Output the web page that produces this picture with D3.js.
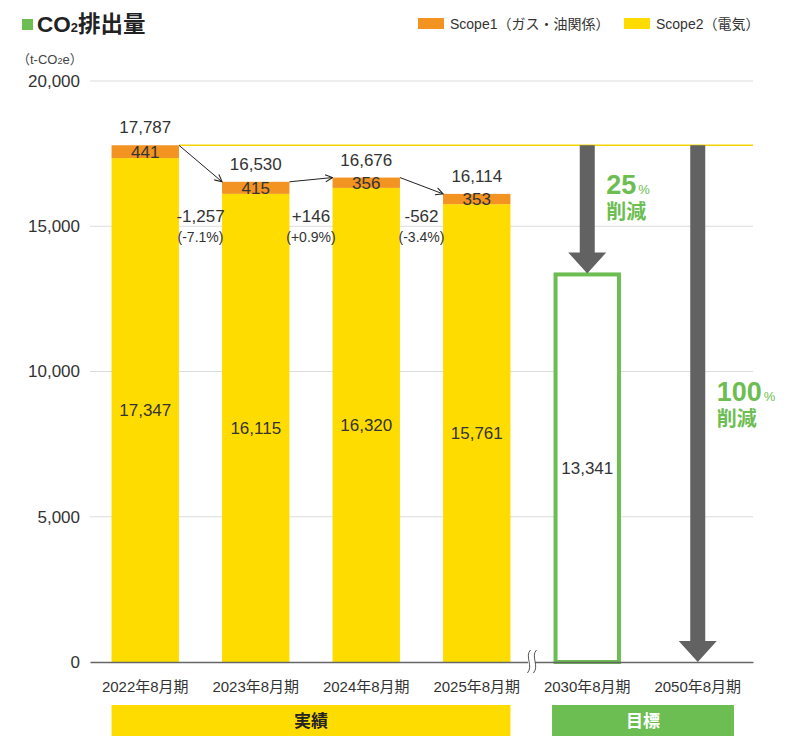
<!DOCTYPE html>
<html>
<head>
<meta charset="utf-8">
<script src="https://cdn.jsdelivr.net/npm/d3@7"></script>
<style>
  body { margin: 0; background: #fff; }
  svg { display: block; font-family: "Liberation Sans", "Noto Sans CJK JP", sans-serif; }
</style>
</head>
<body>
<svg id="chart" width="795" height="742"></svg>
<script>
// data
var categories = ["2022年8月期", "2023年8月期", "2024年8月期", "2025年8月期", "2030年8月期", "2050年8月期"];
var scope1 = [441, 415, 356, 353];
var scope2 = [17347, 16115, 16320, 15761];
var totals = [17787, 16530, 16676, 16114];
var changes = ["-1,257", "+146", "-562"];
var changePct = ["(-7.1%)", "(+0.9%)", "(-3.4%)"];
var target2030 = 13341;
var yTicks = [0, 5000, 10000, 15000, 20000];

var yellow = "#ffdc00";
var orange = "#f39322";
var green = "#6cbd52";
var arrowGray = "#626262";
var textColor = "#333";

var svg = d3.select("#chart");

var x = d3.scaleBand()
    .domain(categories)
    .range([90, 753])
    .paddingInner(0.39)
    .paddingOuter(0.195);

var y = d3.scaleLinear()
    .domain([0, 20000])
    .range([662, 81]);

var bw = x.bandwidth();
var fmt = d3.format(",");

// title
svg.append("rect").attr("x", 22).attr("y", 19).attr("width", 11).attr("height", 11).attr("fill", green);
var title = svg.append("text").attr("x", 37).attr("y", 32)
    .attr("font-size", 22.5).attr("font-weight", "bold").attr("fill", "#222");
title.append("tspan").text("CO");
title.append("tspan").attr("font-size", 13).text("2");
title.append("tspan").text("排出量");

// unit
var unit = svg.append("text").attr("x", 17).attr("y", 64)
    .attr("font-size", 13).attr("fill", "#444");
unit.append("tspan").text("（t-CO");
unit.append("tspan").attr("font-size", 9).text("2");
unit.append("tspan").text("e）");

// legend
var legend = [
    { label: "Scope1（ガス・油関係）", color: orange, x: 418 },
    { label: "Scope2（電気）", color: yellow, x: 624 }
];
legend.forEach(function (d) {
    svg.append("rect").attr("x", d.x).attr("y", 18).attr("width", 26).attr("height", 11).attr("fill", d.color);
    svg.append("text").attr("x", d.x + 32).attr("y", 28.5)
        .attr("font-size", 14).attr("fill", textColor).text(d.label);
});

// grid
svg.append("g").selectAll("line")
    .data(yTicks.filter(function (d) { return d > 0; }))
    .enter().append("line")
    .attr("x1", 90).attr("x2", 753)
    .attr("y1", function (d) { return y(d); })
    .attr("y2", function (d) { return y(d); })
    .attr("stroke", "#dcdcdc").attr("stroke-width", 1);

// y axis labels
var yAxis = svg.append("g")
    .attr("transform", "translate(80,0)")
    .call(d3.axisLeft(y).tickValues(yTicks).tickFormat(fmt).tickSize(0).tickPadding(0));
yAxis.select(".domain").remove();
yAxis.selectAll("text").attr("font-size", 17).attr("fill", textColor)
    .attr("font-family", "Liberation Sans, sans-serif");

// reference line at 2022 level
svg.append("line")
    .attr("x1", x(categories[0]) + bw).attr("x2", 753)
    .attr("y1", y(totals[0])).attr("y2", y(totals[0]))
    .attr("stroke", "#f2d500").attr("stroke-width", 1.5);

// stacked bars
var actual = categories.slice(0, 4);
svg.append("g").selectAll("rect")
    .data(actual)
    .enter().append("rect")
    .attr("x", function (d) { return x(d); })
    .attr("width", bw)
    .attr("y", function (d, i) { return y(scope2[i]); })
    .attr("height", function (d, i) { return y(0) - y(scope2[i]); })
    .attr("fill", yellow);

svg.append("g").selectAll("rect")
    .data(actual)
    .enter().append("rect")
    .attr("x", function (d) { return x(d); })
    .attr("width", bw)
    .attr("y", function (d, i) { return y(scope2[i] + scope1[i]); })
    .attr("height", function (d, i) { return y(scope2[i]) - y(scope2[i] + scope1[i]); })
    .attr("fill", orange);

// labels on bars
actual.forEach(function (d, i) {
    var cx = x(d) + bw / 2;
    svg.append("text").attr("x", cx).attr("y", y(totals[i]) - 12)
        .attr("text-anchor", "middle").attr("font-size", 17).attr("fill", textColor)
        .text(fmt(totals[i]));
    svg.append("text").attr("x", cx).attr("y", (y(scope2[i]) + y(scope2[i] + scope1[i])) / 2)
        .attr("dy", "0.36em")
        .attr("text-anchor", "middle").attr("font-size", 17).attr("fill", textColor)
        .text(scope1[i]);
    svg.append("text").attr("x", cx).attr("y", y(scope2[i] / 2))
        .attr("dy", "0.36em")
        .attr("text-anchor", "middle").attr("font-size", 17).attr("fill", textColor)
        .text(fmt(scope2[i]));
});

// change arrows between bars
var defs = svg.append("defs");
defs.append("marker")
    .attr("id", "head")
    .attr("viewBox", "0 0 10 10")
    .attr("refX", 9).attr("refY", 5)
    .attr("markerWidth", 9).attr("markerHeight", 9)
    .attr("markerUnits", "userSpaceOnUse")
    .attr("orient", "auto")
    .append("path")
    .attr("d", "M1,1 L9,5 L1,9")
    .attr("fill", "none").attr("stroke", "#222").attr("stroke-width", 1.2);

changes.forEach(function (c, i) {
    var x1 = x(actual[i]) + bw;
    var x2 = x(actual[i + 1]);
    svg.append("line")
        .attr("x1", x1).attr("y1", y(totals[i]))
        .attr("x2", x2).attr("y2", y(totals[i + 1]))
        .attr("stroke", "#222").attr("stroke-width", 1)
        .attr("marker-end", "url(#head)");
    var mx = (x1 + x2) / 2;
    svg.append("text").attr("x", mx).attr("y", 222)
        .attr("text-anchor", "middle").attr("font-size", 17).attr("fill", textColor).text(c);
    svg.append("text").attr("x", mx).attr("y", 242)
        .attr("text-anchor", "middle").attr("font-size", 14).attr("fill", textColor).text(changePct[i]);
});

// 2030 target box
var tx = x(categories[4]);
svg.append("rect")
    .attr("x", tx + 2).attr("width", bw - 4)
    .attr("y", y(target2030)).attr("height", y(0) - y(target2030))
    .attr("fill", "#fff").attr("stroke", green).attr("stroke-width", 4);
svg.append("text").attr("x", tx + bw / 2).attr("y", y(target2030 / 2))
    .attr("dy", "0.36em")
    .attr("text-anchor", "middle").attr("font-size", 17).attr("fill", textColor)
    .text(fmt(target2030));

// big arrows
function bigArrow(cx, yTop, yTip) {
    var sw = 7.5, hw = 19, hh = 21;
    var p = d3.path();
    p.moveTo(cx - sw, yTop);
    p.lineTo(cx + sw, yTop);
    p.lineTo(cx + sw, yTip - hh);
    p.lineTo(cx + hw, yTip - hh);
    p.lineTo(cx, yTip);
    p.lineTo(cx - hw, yTip - hh);
    p.lineTo(cx - sw, yTip - hh);
    p.closePath();
    svg.append("path").attr("d", p.toString()).attr("fill", arrowGray);
}
bigArrow(tx + bw / 2, y(totals[0]), y(target2030) - 1);
bigArrow(x(categories[5]) + bw / 2, y(totals[0]), y(0));

// reduction labels
function reduction(xx, yy, num) {
    var t = svg.append("text").attr("x", xx).attr("y", yy).attr("fill", green).attr("font-weight", "bold");
    t.append("tspan").attr("font-size", 27).text(num);
    t.append("tspan").attr("font-size", 13).attr("font-weight", "normal").attr("dx", 2).text("%");
    svg.append("text").attr("x", xx).attr("y", yy + 25).attr("fill", green)
        .attr("font-weight", "bold").attr("font-size", 20).text("削減");
}
reduction(tx + bw / 2 + 19, 194, "25");
reduction(x(categories[5]) + bw / 2 + 19, 401, "100");

// x axis
var xAxis = svg.append("g")
    .attr("transform", "translate(0," + y(0) + ")")
    .call(d3.axisBottom(x).tickSize(0).tickSizeOuter(0).tickPadding(19));
xAxis.select(".domain").attr("stroke", "#666").attr("stroke-width", 1.5);
xAxis.selectAll("text").attr("font-size", 15).attr("fill", textColor)
    .attr("font-family", "Liberation Sans, Noto Sans CJK JP, sans-serif");

// axis break mark
var bx = (x(categories[3]) + bw + x(categories[4])) / 2;
svg.append("rect").attr("x", bx - 4).attr("y", 655).attr("width", 7).attr("height", 14).attr("fill", "#fff");
[-3.5, 2.5].forEach(function (o) {
    svg.append("path")
        .attr("d", "M" + (bx + o + 2) + ",650 C" + (bx + o - 4) + ",656 " + (bx + o + 5) + ",666 " + (bx + o - 1) + ",673")
        .attr("fill", "none").attr("stroke", "#555").attr("stroke-width", 1);
});

// group bars
var groups = [
    { label: "実績", x0: x(categories[0]), x1: x(categories[3]) + bw, fill: yellow, color: "#222" },
    { label: "目標", x0: x(categories[4]) - 1.5, x1: x(categories[5]) + bw + 2.5, fill: green, color: "#fff" }
];
groups.forEach(function (g) {
    svg.append("rect").attr("x", g.x0).attr("y", 705).attr("width", g.x1 - g.x0).attr("height", 31).attr("fill", g.fill);
    svg.append("text").attr("x", (g.x0 + g.x1) / 2).attr("y", 721).attr("dy", "0.36em")
        .attr("text-anchor", "middle").attr("font-size", 17).attr("font-weight", "bold")
        .attr("fill", g.color).text(g.label);
});
</script>
</body>
</html>
